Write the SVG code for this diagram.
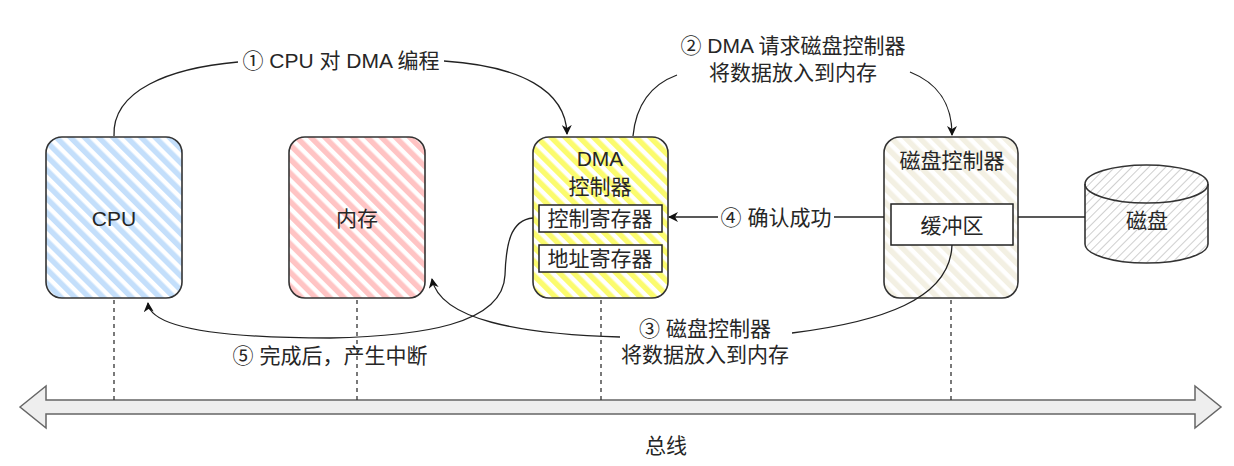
<svg xmlns="http://www.w3.org/2000/svg" width="1234" height="466" viewBox="0 0 1234 466">
<style>
text{font-family:"Liberation Sans","Noto Sans CJK SC",sans-serif;font-size:21px;fill:#262626;text-anchor:middle;dominant-baseline:central}
.box{stroke:#333;stroke-width:1.6}
.inner{fill:#fff;stroke:#222;stroke-width:1.5}
.edge{fill:none;stroke:#222;stroke-width:1.3}
.dash{fill:none;stroke:#333;stroke-width:1.3;stroke-dasharray:4 4}
</style>
<defs>
<pattern id="hBlue" patternUnits="userSpaceOnUse" width="10" height="10" patternTransform="rotate(-45)"><rect width="5.5" height="10" fill="#c4dffb"/></pattern>
<pattern id="hRed" patternUnits="userSpaceOnUse" width="10" height="10" patternTransform="rotate(-45)"><rect width="5.5" height="10" fill="#ffc4c4"/></pattern>
<pattern id="hYellow" patternUnits="userSpaceOnUse" width="10" height="10" patternTransform="rotate(-45)"><rect width="5.5" height="10" fill="#fbfb6e"/></pattern>
<pattern id="hBeige" patternUnits="userSpaceOnUse" width="10" height="10" patternTransform="rotate(-45)"><rect width="5.5" height="10" fill="#f3f0e3"/></pattern>
<pattern id="hGrey" patternUnits="userSpaceOnUse" width="6" height="6" patternTransform="rotate(45)"><rect width="1" height="6" fill="#cfcfcf"/></pattern>
<marker id="arr" viewBox="0 0 10 10" refX="9" refY="5" markerWidth="10" markerHeight="10" markerUnits="userSpaceOnUse" orient="auto"><path d="M0,0 L10,5 L0,10 L3,5 Z" fill="#111"/></marker>
</defs>

<g id="bus">
<path d="M20,407 L46,386 L46,400 L1195,400 L1195,386 L1221,407 L1195,428 L1195,414 L46,414 L46,428 Z" fill="#eeeeee" stroke="#666" stroke-width="1.5"/>
<text x="666" y="445">总线</text>
</g>

<g id="cpu">
<rect class="box" x="46" y="137" width="136" height="161" rx="16" fill="url(#hBlue)"/>
<text x="114" y="218">CPU</text>
</g>
<g id="memory">
<rect class="box" x="289" y="137" width="136" height="161" rx="16" fill="url(#hRed)"/>
<text x="357" y="218">内存</text>
</g>
<g id="dma">
<rect class="box" x="533" y="137" width="135" height="161" rx="16" fill="url(#hYellow)"/>
<text x="600" y="158">DMA</text>
<text x="600" y="186">控制器</text>
<rect class="inner" x="539" y="205" width="123" height="27"/>
<text x="600" y="218">控制寄存器</text>
<rect class="inner" x="539" y="245" width="123" height="27"/>
<text x="600" y="258">地址寄存器</text>
</g>
<g id="diskctrl">
<rect class="box" x="884" y="137" width="134" height="161" rx="16" fill="url(#hBeige)"/>
<text x="952" y="160">磁盘控制器</text>
<rect class="inner" x="891" y="204" width="122" height="41"/>
<text x="952" y="225">缓冲区</text>
</g>
<g id="disk">
<path d="M1085,184 A61.5,19 0 0 1 1208,184 L1208,244 A61.5,19 0 0 1 1085,244 Z" fill="url(#hGrey)" stroke="#333" stroke-width="1.6"/>
<path d="M1085,184 A61.5,19 0 0 0 1208,184" fill="none" stroke="#333" stroke-width="1.6"/>
<text x="1147" y="220">磁盘</text>
</g>

<g id="connectors">
<path class="dash" d="M114,300 V400"/>
<path class="dash" d="M357,300 V400"/>
<path class="dash" d="M601,300 V400"/>
<path class="dash" d="M951,300 V400"/>
<path class="edge" d="M1018,217 L1085,217"/>
<path class="edge" d="M114,136 C112,90 170,68 238,62"/>
<path class="edge" d="M444,61 C520,66 566,90 567,134" marker-end="url(#arr)"/>
<path class="edge" d="M633,136 C636,105 650,85 677,75"/>
<path class="edge" d="M910,72 C935,82 952,100 952,135" marker-end="url(#arr)"/>
<path class="edge" d="M884,217 L834,217"/>
<path class="edge" d="M718,217 L669,217" marker-end="url(#arr)"/>
<path class="edge" d="M952,245 C950,300 880,322 792,333"/>
<path class="edge" d="M620,337 C520,334 440,320 432,279" marker-end="url(#arr)"/>
<path class="edge" d="M533,218 C510,220 506,245 505,275 C503,325 420,336 330,338 C230,338 150,330 148,303" marker-end="url(#arr)"/>
</g>

<g id="label1"><text x="341" y="60">① CPU 对 DMA 编程</text></g>
<g id="label2"><text x="793" y="45">② DMA 请求磁盘控制器</text><text x="793" y="72">将数据放入到内存</text></g>
<g id="label3"><text x="705" y="328">③ 磁盘控制器</text><text x="705" y="354">将数据放入到内存</text></g>
<g id="label4"><text x="776" y="217">④ 确认成功</text></g>
<g id="label5"><text x="330" y="355">⑤ 完成后，产生中断</text></g>
</svg>
